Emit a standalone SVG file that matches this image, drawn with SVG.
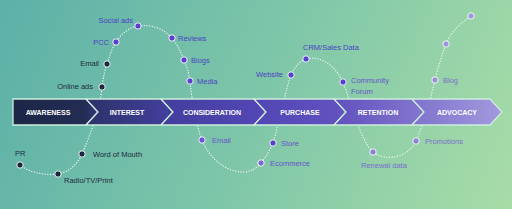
<svg xmlns="http://www.w3.org/2000/svg" width="512" height="209" viewBox="0 0 512 209">
<defs>
<linearGradient id="bg" x1="0" y1="0" x2="512" y2="209" gradientUnits="userSpaceOnUse">
<stop offset="0" stop-color="#5cb0a8"/>
<stop offset="0.5" stop-color="#7ec6a9"/>
<stop offset="1" stop-color="#a8dca7"/>
</linearGradient>
<linearGradient id="band" x1="13" y1="0" x2="502" y2="0" gradientUnits="userSpaceOnUse">
<stop offset="0" stop-color="#1c2646"/>
<stop offset="0.15" stop-color="#232d55"/>
<stop offset="0.16" stop-color="#2d336b"/>
<stop offset="0.32" stop-color="#433f9e"/>
<stop offset="0.5" stop-color="#5246b5"/>
<stop offset="0.66" stop-color="#6051bf"/>
<stop offset="0.8" stop-color="#7c6ecb"/>
<stop offset="1" stop-color="#a29ade"/>
</linearGradient>
<style>
.seg{fill:url(#band);stroke:#cdeedb;stroke-width:1.3;stroke-linejoin:miter}
.st{font-family:"Liberation Sans",Arial,sans-serif;font-weight:bold;font-size:7px;fill:#ffffff;text-anchor:middle}
.lb{font-family:"Liberation Sans",Arial,sans-serif;font-size:7.5px}
.dk{fill:#1f2b3b}
.p1{fill:#4f3fc4}
.p2{fill:#6655cb}
.p3{fill:#7a6ecf}
.dot{stroke:#eef8f2;stroke-width:1}
.e{text-anchor:end}
.path{fill:none;stroke:#eef8f2;stroke-width:1.3;stroke-dasharray:0.1 2.6;stroke-linecap:round}
</style>
</defs>
<rect width="512" height="209" fill="url(#bg)"/>
<g id="connectors">
<path class="path" d="M20,165 C28,172 45,176 58,174 C70,172 78,163 82,154 C90,135 100,110 102,87 C103,78 105,70 107,64 C110,55 112,48 116,42 C122,33 130,27 138,26 C152,24 164,29 172,38 C177,44 181,52 184,60 C187,67 189,74 190,81 C192,100 196,125 202,140 C210,160 228,173 245,172 C252,171 257,168 261,163 C266,157 270,150 273,143 C280,120 284,95 291,75 C295,66 300,61 306,59 C320,55 335,65 343,82 C352,105 360,140 373,152 C385,162 408,158 416,141 C425,120 430,100 435,80 C438,67 442,55 446,44 C452,30 462,22 471,16"/>
</g>
<g id="stage-awareness">
<polygon class="seg" points="13,99 86,99 98,112 86,125 13,125"/>
<text class="st" x="48" y="114.5">AWARENESS</text>
</g>
<g id="stage-interest">
<polygon class="seg" points="86,99 161,99 173,112 161,125 86,125 98,112"/>
<text class="st" x="127" y="114.5">INTEREST</text>
</g>
<g id="stage-consideration">
<polygon class="seg" points="161,99 254,99 266,112 254,125 161,125 173,112"/>
<text class="st" x="212" y="114.5">CONSIDERATION</text>
</g>
<g id="stage-purchase">
<polygon class="seg" points="254,99 334,99 346,112 334,125 254,125 266,112"/>
<text class="st" x="300" y="114.5">PURCHASE</text>
</g>
<g id="stage-retention">
<polygon class="seg" points="334,99 412,99 424,112 412,125 334,125 346,112"/>
<text class="st" x="378" y="114.5">RETENTION</text>
</g>
<g id="stage-advocacy">
<polygon class="seg" points="412,99 490,99 502,112 490,125 412,125 424,112"/>
<text class="st" x="457" y="114.5">ADVOCACY</text>
</g>
<g id="pr"><circle class="dot" cx="20" cy="165" r="3.2" fill="#1d2940"/><text class="lb dk" x="15" y="156">PR</text></g>
<g id="radio"><circle class="dot" cx="58" cy="174" r="3.2" fill="#1d2940"/><text class="lb dk" x="64" y="183">Radio/TV/Print</text></g>
<g id="word-of-mouth"><circle class="dot" cx="82" cy="154" r="3.2" fill="#1d2940"/><text class="lb dk" x="93" y="157">Word of Mouth</text></g>
<g id="online-ads"><circle class="dot" cx="102" cy="87" r="3.2" fill="#1d2940"/><text class="lb dk e" x="93" y="89">Online ads</text></g>
<g id="email-top"><circle class="dot" cx="107" cy="64" r="3.2" fill="#1d2940"/><text class="lb dk e" x="99" y="66">Email</text></g>
<g id="pcc"><circle class="dot" cx="116" cy="42" r="3.2" fill="#5b3fd1"/><text class="lb p1 e" x="109" y="45">PCC</text></g>
<g id="social-ads"><circle class="dot" cx="138" cy="26" r="3.2" fill="#5b3fd1"/><text class="lb p1 e" x="133" y="23">Social ads</text></g>
<g id="reviews"><circle class="dot" cx="172" cy="38" r="3.2" fill="#5b3fd1"/><text class="lb p1" x="178" y="41">Reviews</text></g>
<g id="blogs"><circle class="dot" cx="184" cy="60" r="3.2" fill="#5b3fd1"/><text class="lb p1" x="191" y="63">Blogs</text></g>
<g id="media"><circle class="dot" cx="190" cy="81" r="3.2" fill="#5b3fd1"/><text class="lb p1" x="197" y="84">Media</text></g>
<g id="email-bottom"><circle class="dot" cx="202" cy="140" r="3.2" fill="#6a52d6"/><text class="lb p2" x="212" y="143">Email</text></g>
<g id="ecommerce"><circle class="dot" cx="261" cy="163" r="3.2" fill="#7a68d2"/><text class="lb p2" x="270" y="166">Ecommerce</text></g>
<g id="store"><circle class="dot" cx="273" cy="143" r="3.2" fill="#5a42c8"/><text class="lb p2" x="281" y="146">Store</text></g>
<g id="website"><circle class="dot" cx="291" cy="75" r="3.2" fill="#5a40cf"/><text class="lb p1 e" x="283" y="77">Website</text></g>
<g id="crm"><circle class="dot" cx="306" cy="59" r="3.2" fill="#5a40cf"/><text class="lb p1" x="303" y="50">CRM/Sales Data</text></g>
<g id="community-forum"><circle class="dot" cx="343" cy="82" r="3.2" fill="#5a40cf"/><text class="lb p2" x="351" y="83">Community</text><text class="lb p2" x="351" y="94">Forum</text></g>
<g id="renewal-data"><circle class="dot" cx="373" cy="152" r="3.2" fill="#8d7fd6"/><text class="lb p3" x="361" y="168">Renewal data</text></g>
<g id="promotions"><circle class="dot" cx="416" cy="141" r="3.2" fill="#8d80d8"/><text class="lb p3" x="425" y="144">Promotions</text></g>
<g id="blog"><circle class="dot" cx="435" cy="80" r="3.2" fill="#9b8fdc"/><text class="lb p3" x="443" y="83">Blog</text></g>
<g id="advocacy-dot-1"><circle class="dot" cx="446" cy="44" r="3.2" fill="#a096e0"/></g>
<g id="advocacy-dot-2"><circle class="dot" cx="471" cy="16" r="3.2" fill="#a096e0"/></g>
</svg>
